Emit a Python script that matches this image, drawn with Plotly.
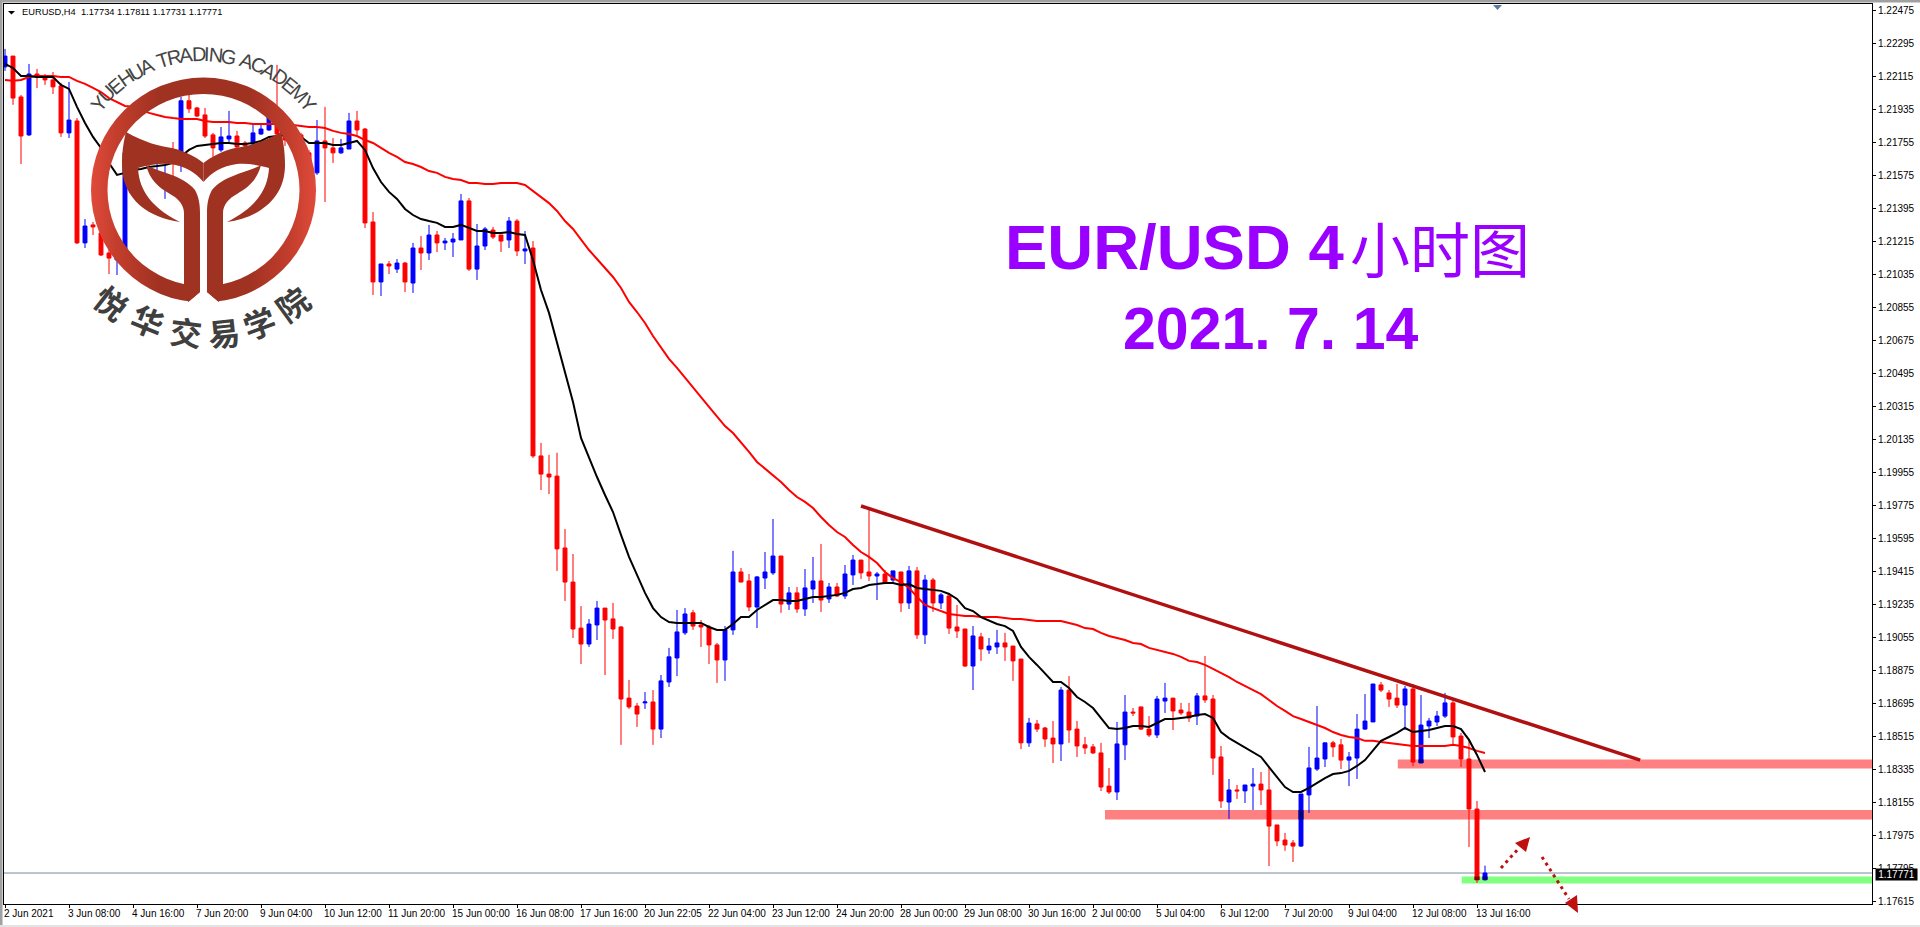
import base64, math
import plotly.graph_objects as go

W, H = 1920, 927

open_ = [1.22168,1.22227,1.22004,1.21797,1.22129,1.22113,1.22097,1.22064,1.21808,1.21873,
1.21208,1.21306,1.21262,1.21153,1.21115,1.21169,1.21660,1.21682,1.21638,1.21660,
1.21660,1.21660,1.21704,1.21983,1.21944,1.21906,1.21797,1.21715,1.21775,1.21791,
1.21753,1.21747,1.21802,1.21824,1.21895,1.21808,1.21769,1.21797,1.21699,1.21590,
1.21764,1.21726,1.21699,1.21720,1.21873,1.21829,1.21322,1.20995,1.21093,1.21065,
1.21098,1.20989,1.21180,1.21153,1.21251,1.21208,1.21213,1.21224,1.21437,1.21065,
1.21191,1.21278,1.21251,1.21224,1.21327,1.21164,1.21180,1.20046,1.19947,1.19936,
1.19544,1.19358,1.19107,1.19020,1.19124,1.19216,1.19157,1.19113,1.18725,1.18682,
1.18699,1.18704,1.18556,1.18813,1.18944,1.19081,1.19190,1.19124,1.19113,1.19015,
1.18933,1.19097,1.19413,1.19364,1.19222,1.19380,1.19408,1.19500,1.19238,1.19299,
1.19211,1.19320,1.19364,1.19266,1.19331,1.19282,1.19397,1.19478,1.19413,1.19391,
1.19402,1.19369,1.19413,1.19244,1.19419,1.19070,1.19369,1.19244,1.19282,1.19113,
1.19102,1.18900,1.19059,1.18988,1.19004,1.19026,1.19009,1.18938,1.18481,1.18584,
1.18562,1.18507,1.18475,1.18769,1.18556,1.18470,1.18459,1.18426,1.18245,1.18213,
1.18470,1.18649,1.18677,1.18556,1.18524,1.18709,1.18725,1.18660,1.18649,1.18627,
1.18737,1.18720,1.18404,1.18158,1.18224,1.18219,1.18245,1.18256,1.18224,1.18033,
1.17951,1.17935,1.17918,1.18197,1.18338,1.18393,1.18481,1.18470,1.18387,1.18398,
1.18556,1.18595,1.18797,1.18753,1.18725,1.18687,1.18775,1.18371,1.18573,1.18595,
1.18627,1.18699,1.18518,1.18393,1.18120,1.17734]

high_ = [1.22266,1.22227,1.22015,1.22184,1.22157,1.22129,1.22140,1.22081,1.22086,1.21889,
1.21338,1.21322,1.21278,1.21186,1.21262,1.21731,1.21769,1.21715,1.21677,1.21715,
1.21715,1.21758,1.22004,1.22026,1.21950,1.21944,1.21808,1.21840,1.21928,1.21819,
1.21764,1.21856,1.21862,1.21917,1.22179,1.21819,1.21851,1.21808,1.21715,1.21878,
1.21950,1.21780,1.21775,1.21917,1.21928,1.21835,1.21376,1.21093,1.21109,1.21120,
1.21104,1.21208,1.21245,1.21306,1.21273,1.21235,1.21262,1.21475,1.21453,1.21311,
1.21295,1.21295,1.21251,1.21349,1.21338,1.21273,1.21218,1.20117,1.20052,1.20063,
1.19647,1.19511,1.19227,1.19156,1.19255,1.19216,1.19244,1.19118,1.18824,1.18699,
1.18758,1.18769,1.18851,1.18999,1.19206,1.19216,1.19206,1.19151,1.19124,1.19026,
1.19118,1.19528,1.19435,1.19402,1.19391,1.19522,1.19702,1.19500,1.19331,1.19331,
1.19429,1.19495,1.19566,1.19353,1.19353,1.19451,1.19506,1.19478,1.19751,1.19413,
1.19424,1.19419,1.19413,1.19446,1.19440,1.19397,1.19380,1.19299,1.19299,1.19233,
1.19102,1.19118,1.19081,1.19053,1.19097,1.19081,1.19009,1.18938,1.18617,1.18606,
1.18568,1.18600,1.18786,1.18845,1.18600,1.18513,1.18475,1.18481,1.18344,1.18595,
1.18742,1.18671,1.18677,1.18627,1.18737,1.18808,1.18725,1.18699,1.18699,1.18753,
1.18955,1.18742,1.18464,1.18284,1.18251,1.18251,1.18344,1.18322,1.18344,1.18033,
1.17990,1.17951,1.18202,1.18459,1.18682,1.18481,1.18492,1.18502,1.18431,1.18638,
1.18747,1.18802,1.18813,1.18769,1.18802,1.18791,1.18802,1.18742,1.18617,1.18655,
1.18753,1.18715,1.18535,1.18502,1.18164,1.17811]

low_ = [1.22146,1.21961,1.21638,1.21791,1.22053,1.22070,1.22020,1.21786,1.21780,1.21202,
1.21180,1.21251,1.21136,1.21038,1.21033,1.21164,1.21633,1.21644,1.21616,1.21568,
1.21448,1.21551,1.21595,1.21917,1.21895,1.21780,1.21677,1.21704,1.21753,1.21726,
1.21726,1.21742,1.21797,1.21819,1.21786,1.21737,1.21742,1.21677,1.21606,1.21579,
1.21431,1.21644,1.21693,1.21720,1.21797,1.21289,1.20924,1.20918,1.21038,1.21044,
1.20940,1.20935,1.21060,1.21115,1.21158,1.21169,1.21131,1.21224,1.21055,1.21006,
1.21169,1.21229,1.21158,1.21180,1.21136,1.21093,1.20035,1.19860,1.19838,1.19419,
1.19255,1.19053,1.18911,1.19004,1.19042,1.18851,1.19048,1.18470,1.18666,1.18568,
1.18666,1.18470,1.18507,1.18786,1.18845,1.19070,1.19097,1.19004,1.18911,1.18808,
1.18819,1.19070,1.19358,1.19200,1.19107,1.19320,1.19397,1.19190,1.19206,1.19190,
1.19173,1.19244,1.19195,1.19244,1.19277,1.19266,1.19342,1.19375,1.19364,1.19260,
1.19353,1.19353,1.19195,1.19211,1.19048,1.19020,1.19195,1.19211,1.19075,1.19053,
1.18895,1.18769,1.18928,1.18966,1.18966,1.18928,1.18819,1.18447,1.18459,1.18540,
1.18459,1.18371,1.18382,1.18481,1.18404,1.18420,1.18420,1.18218,1.18202,1.18169,
1.18387,1.18627,1.18551,1.18513,1.18507,1.18644,1.18551,1.18633,1.18595,1.18578,
1.18699,1.18306,1.18126,1.18066,1.18175,1.18153,1.18115,1.18142,1.17809,1.17918,
1.17892,1.17831,1.17913,1.18099,1.18328,1.18349,1.18404,1.18338,1.18245,1.18284,
1.18551,1.18595,1.18758,1.18677,1.18671,1.18551,1.18354,1.18371,1.18507,1.18573,
1.18617,1.18470,1.18349,1.17913,1.17717,1.17731]

close_ = [1.22227,1.21998,1.21791,1.22129,1.22113,1.22097,1.22059,1.21808,1.21878,1.21208,
1.21300,1.21295,1.21142,1.21125,1.21224,1.21699,1.21715,1.21660,1.21666,1.21677,
1.21693,1.21644,1.21983,1.21939,1.21900,1.21791,1.21726,1.21786,1.21791,1.21731,
1.21737,1.21808,1.21829,1.21895,1.21802,1.21769,1.21824,1.21715,1.21633,1.21764,
1.21726,1.21699,1.21726,1.21873,1.21824,1.21317,1.20995,1.21093,1.21082,1.21098,
1.20995,1.21180,1.21153,1.21251,1.21208,1.21218,1.21229,1.21437,1.21065,1.21191,
1.21284,1.21240,1.21218,1.21327,1.21164,1.21175,1.20046,1.19947,1.19931,1.19539,
1.19358,1.19102,1.19020,1.19129,1.19216,1.19151,1.19102,1.18720,1.18677,1.18638,
1.18704,1.18556,1.18819,1.18950,1.19086,1.19184,1.19118,1.19113,1.19015,1.18933,
1.19097,1.19413,1.19358,1.19222,1.19386,1.19413,1.19500,1.19238,1.19299,1.19211,
1.19326,1.19364,1.19260,1.19331,1.19282,1.19402,1.19478,1.19408,1.19391,1.19402,
1.19353,1.19419,1.19244,1.19419,1.19070,1.19369,1.19244,1.19288,1.19107,1.19091,
1.18900,1.19064,1.18993,1.19009,1.19026,1.19004,1.18928,1.18481,1.18589,1.18556,
1.18502,1.18475,1.18769,1.18551,1.18464,1.18453,1.18426,1.18240,1.18213,1.18475,
1.18649,1.18644,1.18556,1.18524,1.18720,1.18725,1.18655,1.18644,1.18617,1.18737,
1.18715,1.18398,1.18164,1.18224,1.18219,1.18251,1.18256,1.18224,1.18027,1.17946,
1.17924,1.17918,1.18202,1.18344,1.18398,1.18481,1.18459,1.18387,1.18404,1.18556,
1.18600,1.18802,1.18769,1.18720,1.18687,1.18775,1.18376,1.18578,1.18600,1.18627,
1.18699,1.18513,1.18393,1.18120,1.17733,1.17771]

ma_black = [1.22184,1.22162,1.22118,1.22118,1.22113,1.22113,1.22113,1.22070,1.22048,1.21950,
1.21862,1.21786,1.21726,1.21644,1.21579,1.21590,1.21606,1.21611,1.21622,1.21627,
1.21633,1.21644,1.21677,1.21715,1.21737,1.21742,1.21747,1.21753,1.21753,1.21747,
1.21747,1.21753,1.21764,1.21786,1.21791,1.21797,1.21797,1.21786,1.21753,1.21753,
1.21753,1.21742,1.21742,1.21753,1.21764,1.21715,1.21616,1.21540,1.21486,1.21448,
1.21393,1.21360,1.21338,1.21327,1.21317,1.21295,1.21295,1.21306,1.21289,1.21273,
1.21273,1.21262,1.21262,1.21267,1.21256,1.21251,1.21115,1.20951,1.20826,1.20663,
1.20515,1.20340,1.20144,1.20035,1.19931,1.19833,1.19740,1.19615,1.19495,1.19397,
1.19299,1.19216,1.19167,1.19140,1.19135,1.19135,1.19135,1.19135,1.19113,1.19097,
1.19097,1.19129,1.19167,1.19167,1.19206,1.19233,1.19260,1.19260,1.19255,1.19255,
1.19266,1.19277,1.19277,1.19282,1.19288,1.19299,1.19320,1.19326,1.19342,1.19347,
1.19353,1.19353,1.19342,1.19347,1.19326,1.19320,1.19315,1.19310,1.19293,1.19266,
1.19216,1.19200,1.19167,1.19146,1.19129,1.19118,1.19091,1.19004,1.18950,1.18906,
1.18862,1.18813,1.18813,1.18780,1.18731,1.18704,1.18671,1.18617,1.18562,1.18556,
1.18562,1.18573,1.18573,1.18568,1.18589,1.18611,1.18611,1.18617,1.18622,1.18633,
1.18638,1.18617,1.18540,1.18507,1.18481,1.18453,1.18426,1.18404,1.18349,1.18295,
1.18240,1.18213,1.18213,1.18235,1.18262,1.18289,1.18311,1.18316,1.18328,1.18355,
1.18387,1.18442,1.18492,1.18513,1.18535,1.18562,1.18540,1.18546,1.18551,1.18562,
1.18573,1.18573,1.18556,1.18497,1.18415,1.18322]

ma_red = [1.22097,1.22092,1.22097,1.22113,1.22118,1.22118,1.22118,1.22113,1.22113,1.22092,
1.22075,1.22053,1.22031,1.21998,1.21977,1.21955,1.21950,1.21933,1.21917,1.21906,
1.21895,1.21889,1.21884,1.21884,1.21884,1.21873,1.21867,1.21867,1.21867,1.21862,
1.21862,1.21856,1.21856,1.21856,1.21856,1.21856,1.21851,1.21846,1.21840,1.21840,
1.21835,1.21819,1.21808,1.21802,1.21791,1.21769,1.21753,1.21726,1.21699,1.21677,
1.21649,1.21638,1.21622,1.21600,1.21590,1.21568,1.21557,1.21551,1.21535,1.21535,
1.21529,1.21529,1.21535,1.21535,1.21535,1.21524,1.21491,1.21458,1.21425,1.21382,
1.21327,1.21284,1.21224,1.21169,1.21120,1.21071,1.21022,1.20962,1.20886,1.20831,
1.20771,1.20700,1.20635,1.20575,1.20526,1.20471,1.20422,1.20367,1.20313,1.20258,
1.20209,1.20171,1.20122,1.20068,1.20013,1.19975,1.19942,1.19904,1.19860,1.19822,
1.19795,1.19762,1.19713,1.19669,1.19631,1.19604,1.19560,1.19522,1.19495,1.19462,
1.19413,1.19380,1.19358,1.19326,1.19277,1.19233,1.19216,1.19200,1.19184,1.19178,
1.19173,1.19173,1.19167,1.19167,1.19167,1.19162,1.19157,1.19157,1.19151,1.19146,
1.19146,1.19146,1.19146,1.19135,1.19124,1.19107,1.19102,1.19081,1.19064,1.19053,
1.19042,1.19026,1.19020,1.18999,1.18988,1.18977,1.18966,1.18950,1.18928,1.18922,
1.18906,1.18884,1.18862,1.18840,1.18813,1.18791,1.18769,1.18747,1.18715,1.18682,
1.18655,1.18627,1.18611,1.18595,1.18578,1.18562,1.18540,1.18524,1.18513,1.18507,
1.18492,1.18492,1.18486,1.18481,1.18475,1.18470,1.18464,1.18464,1.18464,1.18464,
1.18464,1.18470,1.18464,1.18453,1.18437,1.18426]

x_tick_labels = ["2 Jun 2021","3 Jun 08:00","4 Jun 16:00","7 Jun 20:00","9 Jun 04:00","10 Jun 12:00",
"11 Jun 20:00","15 Jun 00:00","16 Jun 08:00","17 Jun 16:00","20 Jun 22:05","22 Jun 04:00",
"23 Jun 12:00","24 Jun 20:00","28 Jun 00:00","29 Jun 08:00","30 Jun 16:00","2 Jul 00:00",
"5 Jul 04:00","6 Jul 12:00","7 Jul 20:00","9 Jul 04:00","12 Jul 08:00","13 Jul 16:00"]
y_ticks = [1.22475,1.22295,1.22115,1.21935,1.21755,1.21575,1.21395,1.21215,1.21035,1.20855,
1.20675,1.20495,1.20315,1.20135,1.19955,1.19775,1.19595,1.19415,1.19235,1.19055,
1.18875,1.18695,1.18515,1.18335,1.18155,1.17975,1.17795,1.17615]
bars_per_tick = 8
last_price = 1.17771

trend_bars = [107, 204.4]
trend_price = [1.19773, 1.18387]
band_start = [174.1, 137.5, 182.1]
band_top = [1.18390, 1.18115, 1.17752]
band_bot = [1.18341, 1.18063, 1.17714]
band_color = ["#ff8080", "#ff8080", "#80ff80"]

PLOT_L, PLOT_T, PLOT_R, PLOT_B = 4, 4, 1872, 904
X_RANGE = [-0.125, 233.375]
Y_RANGE = [1.17602, 1.22511]
BODY_HALF = 0.3125
FONT = "Liberation Sans"


def fx(px):
    return px / W


def fy(py):
    return 1 - py / H


def path(points):
    return "M " + " L ".join(f"{fx(a):.5f},{fy(b):.5f}" for a, b in points) + " Z"


n = len(open_)
bars = list(range(n))
fig = go.Figure()
fig.add_trace(go.Candlestick(
    x=bars, open=open_, high=high_, low=low_, close=close_, whiskerwidth=0,
    increasing=dict(line=dict(color="#0000ff", width=1), fillcolor="#0000ff"),
    decreasing=dict(line=dict(color="#ff0000", width=1), fillcolor="#ff0000"),
    showlegend=False, hoverinfo="skip"))
fig.add_trace(go.Scatter(x=bars, y=ma_red, mode="lines", line=dict(color="#ff0000", width=2),
                         showlegend=False, hoverinfo="skip"))
fig.add_trace(go.Scatter(x=bars, y=ma_black, mode="lines", line=dict(color="#000000", width=2),
                         showlegend=False, hoverinfo="skip"))

shapes = []
for s, t, b, c in zip(band_start, band_top, band_bot, band_color):
    shapes.append(dict(type="rect", xref="x", yref="y", x0=s, x1=X_RANGE[1], y0=b, y1=t,
                       fillcolor=c, line_width=0, layer="below"))
shapes.append(dict(type="line", xref="paper", yref="y", x0=fx(PLOT_L), x1=fx(PLOT_R),
                   y0=last_price, y1=last_price, line=dict(color="#778899", width=1), layer="below"))
for s, t, b, c in zip(band_start, band_top, band_bot, band_color):
    for i in bars:
        if i < s:
            continue
        hi, lo = max(open_[i], close_[i]), min(open_[i], close_[i])
        up, dn = min(hi, t), max(lo, b)
        if up <= dn:
            continue
        is_blue = close_[i] >= open_[i]
        if not is_blue and c == "#ff8080":
            continue
        shapes.append(dict(type="rect", xref="x", yref="y", x0=i - BODY_HALF, x1=i + BODY_HALF,
                           y0=dn, y1=up, fillcolor="#000080" if is_blue else "#800000", line_width=0))
shapes.append(dict(type="line", xref="x", yref="y", x0=trend_bars[0], x1=trend_bars[1],
                   y0=trend_price[0], y1=trend_price[1], line=dict(color="#b01010", width=3.5)))
shapes.append(dict(type="rect", xref="paper", yref="paper", x0=0, x1=1, y0=fy(2.5), y1=1,
                   fillcolor="#a0a0a0", line_width=0))
shapes.append(dict(type="rect", xref="paper", yref="paper", x0=0, x1=fx(2.5), y0=fy(925), y1=1,
                   fillcolor="#a0a0a0", line_width=0))
shapes.append(dict(type="rect", xref="paper", yref="paper", x0=0, x1=1, y0=0, y1=fy(925),
                   fillcolor="#e4e4e4", line_width=0))
shapes.append(dict(type="path", xref="paper", yref="paper", path=path([(8, 11), (15, 11), (11.5, 14.5)]),
                   fillcolor="#000000", line_width=0))
shapes.append(dict(type="path", xref="paper", yref="paper", path=path([(1493, 5), (1502, 5), (1497.5, 10)]),
                   fillcolor="#5f7c9c", line_width=0))
ARROW = "#c00f0f"
shapes.append(dict(type="line", xref="paper", yref="paper", x0=fx(1501), y0=fy(868), x1=fx(1519), y1=fy(848),
                   line=dict(color=ARROW, width=3, dash="3px,4px")))
shapes.append(dict(type="path", xref="paper", yref="paper", path=path([(1530, 837), (1515, 843), (1526, 852)]),
                   fillcolor=ARROW, line_width=0))
shapes.append(dict(type="line", xref="paper", yref="paper", x0=fx(1542), y0=fy(857), x1=fx(1569), y1=fy(899),
                   line=dict(color=ARROW, width=3, dash="3px,4px")))
shapes.append(dict(type="path", xref="paper", yref="paper", path=path([(1578, 913), (1565, 903), (1577, 895)]),
                   fillcolor=ARROW, line_width=0))

CX, CY, RO, RI = 203.5, 190, 112.5, 96
left_cup = ("M126,132 C145,143 160,146 172,148 C185,151 196,157 203.5,163 L203.5,182 "
            "C195,172 185,166 170,164 C160,163 148,165 138,168 C139,185 146,205 180,222 "
            "C150,218 122,200 122,165 C122,150 124,140 126,132 Z")
left_stem = ("M146,165 C158,172 183,175 195,190 C199,197 200,205 200,213 L200,292 L188,302 L184,284 "
             "L184,213 C184,205 178,198 170,194 C158,187 150,180 146,165 Z")
svg = f'''<svg xmlns="http://www.w3.org/2000/svg" width="240" height="240" viewBox="85 70 240 240">
<defs><linearGradient id="g" gradientUnits="userSpaceOnUse" x1="91" y1="0" x2="316" y2="0">
<stop offset="0" stop-color="#e04a3a"/><stop offset="0.12" stop-color="#c23d2c"/>
<stop offset="0.3" stop-color="#a03222"/><stop offset="0.7" stop-color="#a03222"/>
<stop offset="0.88" stop-color="#c23d2c"/><stop offset="1" stop-color="#e04a3a"/></linearGradient></defs>
<path fill="url(#g)" fill-rule="evenodd" d="M{CX-RO},{CY} a{RO},{RO} 0 1,0 {2*RO},0 a{RO},{RO} 0 1,0 -{2*RO},0 Z
M{CX-RI},{CY} a{RI},{RI} 0 1,0 {2*RI},0 a{RI},{RI} 0 1,0 -{2*RI},0 Z"/>
<polygon fill="#ffffff" points="186,304 200,292 200,280 207,280 207,292 221,304"/>
<g fill="#a03222"><path d="{left_cup}"/><path d="{left_stem}"/>
<g transform="translate(407,0) scale(-1,1)"><path d="{left_cup}"/><path d="{left_stem}"/></g></g>
</svg>'''
logo = "data:image/svg+xml;base64," + base64.b64encode(svg.encode()).decode()
images = [dict(source=logo, xref="paper", yref="paper", x=fx(85), y=fy(70), sizex=240 / W, sizey=240 / H,
               xanchor="left", yanchor="top", sizing="stretch", layer="above")]

annotations = []


def label(text, px, py, size, color="#000000", family=FONT, angle=0, anchor="center", weight=None, **kw):
    f = dict(size=size, color=color, family=family)
    if weight:
        f["weight"] = weight
    annotations.append(dict(text=text, x=fx(px), y=fy(py), xref="paper", yref="paper", showarrow=False,
                            xanchor=anchor, yanchor="middle", textangle=angle, font=f, **kw))


label("EURUSD,H4  1.17734 1.17811 1.17731 1.17771", 20, 12.5, 9.3, anchor="left")
label("EUR/USD 4", 1003, 247, 63.5, "#9900ff", anchor="left", weight=700)
label("小时图", 1348, 247, 60, "#9900ff", family="Noto Sans CJK SC", anchor="left")
label("2021. 7. 14", 1270, 329, 59, "#9900ff", weight=700)
arc_text = "YUEHUA TRADING ACADEMY"
widths = dict(zip("YUEHA TRDINGCM", [.667,.722,.667,.722,.667,.278,.611,.722,.722,.278,.722,.778,.722,.833]))
tot = sum(widths[c] for c in arc_text)
run = 0
SPAN = 106
for c in arc_text:
    w = widths[c]
    ang = -SPAN / 2 + SPAN * (run + w / 2) / tot
    run += w
    if c != " ":
        a = math.radians(ang)
        label(c, CX + 136 * math.sin(a), CY - 136 * math.cos(a), 20, "#444444", angle=ang)
cn_chars = ["悦", "华", "交", "易", "学", "院"]
cn_x = [112, 148, 186, 224, 259, 292]
cn_y = [302, 320, 331, 332, 322, 303]
cn_a = [38, 22, 7, -6, -20, -36]
for c, a, b, d in zip(cn_chars, cn_x, cn_y, cn_a):
    label(c, a, b, 32, "#3f3f3f", family="Noto Sans CJK SC", angle=d, weight=700)
annotations.append(dict(text="1.17771", x=fx(1875), y=fy(874), xref="paper", yref="paper", showarrow=False,
                        xanchor="left", yanchor="middle", width=41, height=11, bgcolor="#000000", borderpad=0,
                        align="center", font=dict(size=10, color="#ffffff", family=FONT)))

fig.update_layout(
    width=W, height=H, autosize=False, margin=dict(l=0, r=0, t=0, b=0, pad=0, autoexpand=False),
    paper_bgcolor="#ffffff", plot_bgcolor="#ffffff", showlegend=False,
    shapes=shapes, annotations=annotations, images=images,
    xaxis=dict(domain=[fx(PLOT_L), fx(PLOT_R)], range=X_RANGE, type="linear", rangeslider=dict(visible=False),
               tickmode="array", tickvals=[k * bars_per_tick for k in range(len(x_tick_labels))],
               ticktext=x_tick_labels, ticks="outside", ticklen=3, tickcolor="#000000", tickwidth=1,
               ticklabelposition="outside right", ticklabelshift=-2, showgrid=False, zeroline=False,
               showline=True, mirror=True, linecolor="#000000", linewidth=1,
               tickfont=dict(size=10, color="#000000", family=FONT), tickangle=0, automargin=False),
    yaxis=dict(domain=[fy(PLOT_B), fy(PLOT_T)], range=Y_RANGE, side="right", tickmode="array", tickvals=y_ticks,
               ticktext=[f"{v:.5f}" for v in y_ticks], ticks="outside", ticklen=3, tickcolor="#000000", tickwidth=1,
               showgrid=False, zeroline=False, showline=True, mirror=True, linecolor="#000000", linewidth=1,
               tickfont=dict(size=10, color="#000000", family=FONT), automargin=False),
)

fig.write_html("out.html", config=dict(displayModeBar=False),
               post_script="document.body.style.margin='0';document.body.style.overflow='hidden';")
